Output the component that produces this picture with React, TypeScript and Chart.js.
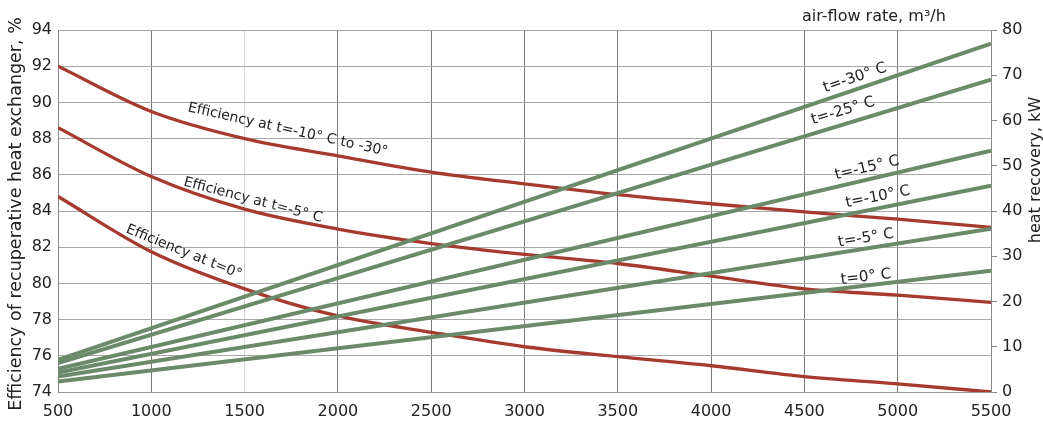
import React, { useEffect, useRef } from "react";
import { Chart, registerables } from "chart.js";

Chart.register(...registerables);

// air-flow rate, m3/h
const airFlow = [500, 1000, 1500, 2000, 2500, 3000, 3500, 4000, 4500, 5000, 5500];

// Efficiency (%) curves, left axis
const effCold = [92.0, 89.5, 88.0, 87.05, 86.15, 85.5, 84.9, 84.4, 83.95, 83.55, 83.1];
const effMinus5 = [88.6, 85.9, 84.1, 83.0, 82.2, 81.6, 81.1, 80.4, 79.7, 79.35, 78.95];
const effZero = [84.8, 81.75, 79.7, 78.2, 77.3, 76.5, 75.95, 75.45, 74.85, 74.45, 74.0];

// Heat recovery (kW) straight lines, right axis: values at 500 and 5500 m3/h
const flowEnds = [500, 5500];
const hrMinus30 = [7.1, 77.0];
const hrMinus25 = [6.4, 69.0];
const hrMinus15 = [5.1, 53.3];
const hrMinus10 = [4.3, 45.6];
const hrMinus5 = [3.4, 36.1];
const hrZero = [2.3, 26.8];

const effLabels = ["Efficiency at t=-10° C to -30°", "Efficiency at t=-5° C", "Efficiency at t=0°"];
const hrLabels = ["t=-30° C", "t=-25° C", "t=-15° C", "t=-10° C", "t=-5° C", "t=0° C"];

const RED = "rgb(166,58,46)";
const GREEN = "rgb(106,138,106)";
const FONT = "'DejaVu Sans', sans-serif";
const TEXT = "#222";

const toPts = (xs: number[], ys: number[]) => xs.map((x, i) => ({ x, y: ys[i] }));

// label anchors (data coordinates) and angles
const effAnchors = [
  { x: 1732, y: 88.48, angle: 12.6 },
  { x: 1545, y: 84.6, angle: 14.8 },
  { x: 1175, y: 81.73, angle: 22 },
];
const hrAnchors = [
  { x: 4771, y: 69.4 },
  { x: 4707, y: 62.1 },
  { x: 4836, y: 49.5 },
  { x: 4894, y: 43.1 },
  { x: 4830, y: 34.0 },
  { x: 4830, y: 25.4 },
];

const labelPlugin = {
  id: "labels",
  afterDatasetsDraw(chart: any) {
    const ctx = chart.ctx;
    const xs = chart.scales.x;
    const yl = chart.scales.y;
    const yr = chart.scales.y1;
    ctx.save();
    ctx.fillStyle = TEXT;
    ctx.textAlign = "center";
    ctx.textBaseline = "middle";
    ctx.font = `14px ${FONT}`;
    effAnchors.forEach((a, i) => {
      ctx.save();
      ctx.translate(xs.getPixelForValue(a.x), yl.getPixelForValue(a.y));
      ctx.rotate((a.angle * Math.PI) / 180);
      ctx.fillText(effLabels[i], 0, 0);
      ctx.restore();
    });
    const hrSets = [hrMinus30, hrMinus25, hrMinus15, hrMinus10, hrMinus5, hrZero];
    ctx.font = `15px ${FONT}`;
    hrAnchors.forEach((a, i) => {
      const s = hrSets[i];
      const x0 = xs.getPixelForValue(flowEnds[0]);
      const x1 = xs.getPixelForValue(flowEnds[1]);
      const y0 = yr.getPixelForValue(s[0]);
      const y1 = yr.getPixelForValue(s[1]);
      const ang = Math.atan2(y1 - y0, x1 - x0);
      ctx.save();
      ctx.translate(xs.getPixelForValue(a.x), yr.getPixelForValue(a.y));
      ctx.rotate(ang);
      ctx.fillText(hrLabels[i], 0, 0);
      ctx.restore();
    });

    // axis titles
    ctx.font = `17.5px ${FONT}`;
    ctx.save();
    ctx.translate(16, 214);
    ctx.rotate(-Math.PI / 2);
    ctx.fillText("Efficiency of recuperative heat exchanger, %", 0, 0);
    ctx.restore();
    ctx.font = `16px ${FONT}`;
    ctx.save();
    ctx.translate(1036, 170);
    ctx.rotate(-Math.PI / 2);
    ctx.fillText("heat recovery, kW", 0, 0);
    ctx.restore();
    ctx.textAlign = "left";
    ctx.fillText("air-flow rate, m³/h", 802, 17);
    ctx.restore();
  },
};

export default function App() {
  const ref = useRef<HTMLCanvasElement>(null);
  useEffect(() => {
    if (!ref.current) return;
    const redDs = (data: number[]) => ({
      data: toPts(airFlow, data),
      borderColor: RED,
      borderWidth: 3.3,
      pointRadius: 0,
      cubicInterpolationMode: "monotone" as const,
      yAxisID: "y",
    });
    const greenDs = (data: number[]) => ({
      data: toPts(flowEnds, data),
      borderColor: GREEN,
      borderWidth: 4,
      pointRadius: 0,
      yAxisID: "y1",
    });
    const chart = new Chart(ref.current, {
      type: "line",
      data: {
        datasets: [
          greenDs(hrMinus30),
          greenDs(hrMinus25),
          greenDs(hrMinus15),
          greenDs(hrMinus10),
          greenDs(hrMinus5),
          greenDs(hrZero),
          redDs(effCold),
          redDs(effMinus5),
          redDs(effZero),
        ],
      },
      options: {
        animation: false,
        responsive: false,
        layout: { padding: { top: 30, left: 0, right: 0, bottom: 0 } },
        plugins: { legend: { display: false }, tooltip: { enabled: false } },
        scales: {
          x: {
            type: "linear",
            min: 500,
            max: 5500,
            ticks: {
              stepSize: 500,
              color: TEXT,
              font: { family: FONT, size: 16 },
              padding: 10,
              maxRotation: 0,
              callback: (v: any) => String(v),
            },
            grid: {
              color: (c: any) => (c.tick && c.tick.value === 1500 ? "#d4d4d4" : "#7a7a7a"),
              drawTicks: false,
            },
            border: { color: "#999" },
            afterFit: (s: any) => { s.height = 40; },
          },
          y: {
            position: "left",
            min: 74,
            max: 94,
            ticks: { stepSize: 2, color: TEXT, font: { family: FONT, size: 16 }, padding: 6 },
            grid: { color: "#a8a8a8", drawTicks: false },
            border: { color: "#888" },
            afterFit: (s: any) => { s.width = 58; },
          },
          y1: {
            position: "right",
            min: 0,
            max: 80,
            ticks: { stepSize: 10, color: TEXT, font: { family: FONT, size: 16 }, padding: 5 },
            grid: { drawOnChartArea: false, color: "#888", tickLength: 6 },
            border: { color: "#888" },
            afterFit: (s: any) => { s.width = 52; },
          },
        },
      },
      plugins: [labelPlugin],
    });
    return () => chart.destroy();
  }, []);
  return (
    <div style={{ position: "absolute", left: 0, top: 0, width: 1043, height: 432, background: "#fff" }}>
      <canvas ref={ref} width={1043} height={432} />
    </div>
  );
}
